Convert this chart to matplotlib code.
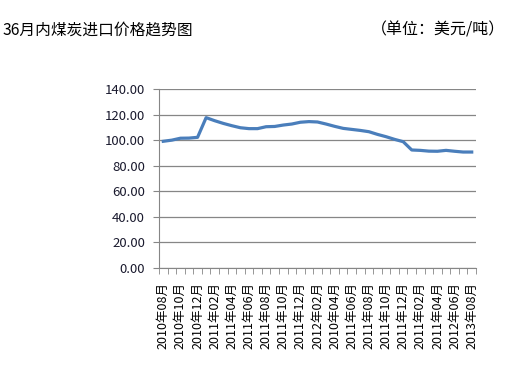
import matplotlib
matplotlib.use("Agg")
import matplotlib.pyplot as plt
import numpy as np

plt.rcParams['font.family'] = ['Noto Sans CJK SC', 'DejaVu Sans']

# 2010-08 .. 2013-08, 37 monthly points
prices = [99.1, 100.0, 101.5, 101.6, 102.2, 117.6, 115.2, 113.1, 111.3, 109.7,
          109.0, 109.0, 110.5, 110.7, 111.8, 112.6, 114.0, 114.5, 114.2, 112.6,
          110.8, 109.2, 108.4, 107.6, 106.6, 104.5, 102.7, 100.6, 98.8, 92.3,
          92.0, 91.4, 91.3, 92.0, 91.3, 90.7, 90.7]

tick_labels = ['2010年08月', '2010年10月', '2010年12月', '2011年02月', '2011年04月',
               '2011年06月', '2011年08月', '2011年10月', '2011年12月', '2012年02月',
               '2010年04月', '2011年06月', '2011年08月', '2011年10月', '2011年12月',
               '2011年02月', '2011年04月', '2012年06月', '2013年08月']

yticks = [0, 20, 40, 60, 80, 100, 120, 140]

fig = plt.figure(figsize=(5.09, 3.75), dpi=100)
ax = fig.add_axes([159/509, 1-268/375, (476-159)/509, (268-89)/375])

x = np.arange(len(prices))
ax.plot(x, prices, color='#4a7ebb', lw=2.3, solid_joinstyle='round')

ax.set_xlim(-0.5, len(prices) - 0.5)
ax.set_ylim(0, 140)
ax.set_yticks(yticks)
ax.set_yticklabels(['%.2f' % v for v in yticks], fontsize=9.5, color='#1a1a2e')
ax.yaxis.grid(True, color='#868686', lw=0.9)
ax.set_axisbelow(True)

ax.set_xticks(x[::2])
ax.set_xticklabels(tick_labels, rotation=90, fontsize=9, va='top')
ax.set_xticks(np.arange(len(prices) + 1) - 0.5, minor=True)
ax.tick_params(axis='x', which='major', length=0, pad=10)
ax.tick_params(axis='x', which='minor', length=4, color='#868686')
ax.tick_params(axis='y', length=4, color='#868686', pad=6)

for s in ['top', 'right']:
    ax.spines[s].set_visible(False)
for s in ['left', 'bottom']:
    ax.spines[s].set_color('#868686')

fig.text(3/509, 1-30/375, '36月内煤炭进口价格趋势图', fontsize=11.3, va='center', ha='left')
fig.text(505/509, 1-30/375, '（单位：美元/吨）', fontsize=11.5, va='center', ha='right')

fig.savefig('out.png', dpi=100)
